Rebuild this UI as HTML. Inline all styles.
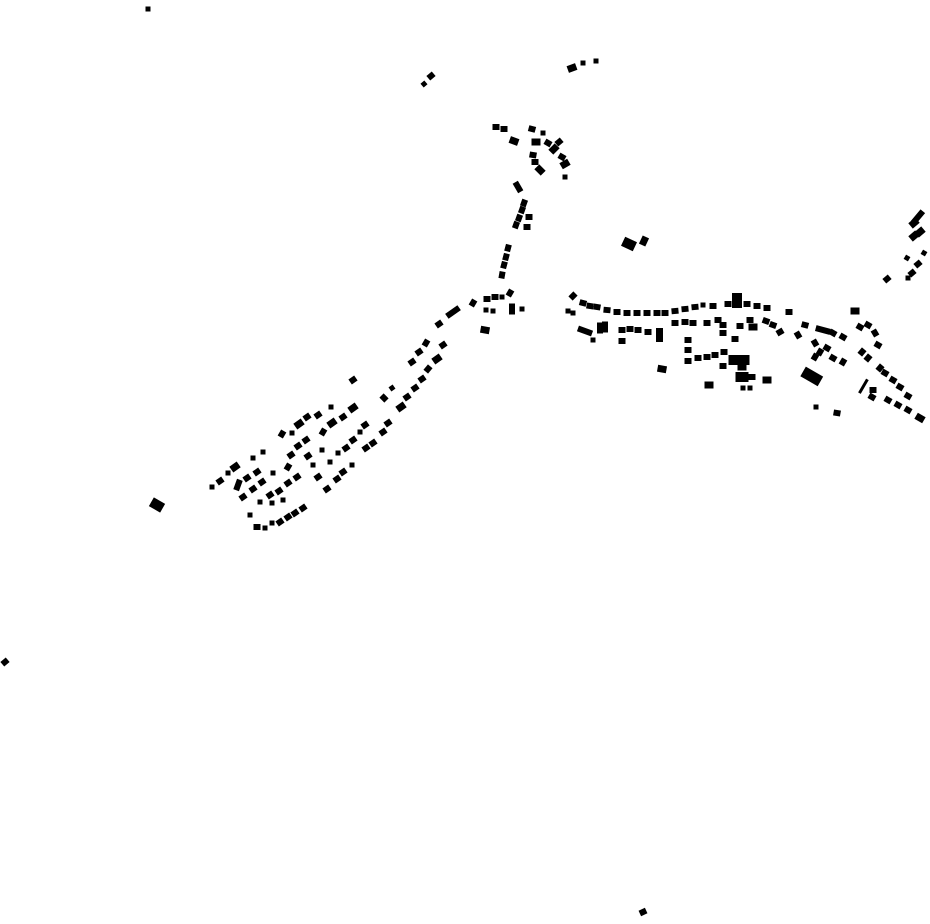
<!DOCTYPE html>
<html><head><meta charset="utf-8"><style>html,body{margin:0;padding:0;background:#fff}svg{display:block}</style></head>
<body>
<svg width="930" height="924" viewBox="0 0 930 924" xmlns="http://www.w3.org/2000/svg">
<defs>
<rect id="s" x="-3.5" y="-3" width="7" height="6" fill="#000"/>
<rect id="t" x="-2.5" y="-2.5" width="5" height="5" fill="#000"/>
<rect id="m" x="-4.5" y="-3.5" width="9" height="7" fill="#000"/>
<rect id="l" x="-6.5" y="-5" width="13" height="10" fill="#000"/>
<rect id="e" x="-7.5" y="-3" width="15" height="6" fill="#000"/>
<rect id="v" x="-3" y="-5.5" width="6" height="11" fill="#000"/>
</defs>
<g fill="#000">
<use href="#t" transform="translate(148 9)"/>
<use href="#s" transform="translate(431 76) rotate(-40)"/>
<use href="#t" transform="translate(424 84) rotate(-40)"/>
<use href="#m" transform="translate(572 68) rotate(-20)"/>
<use href="#t" transform="translate(583 63)"/>
<use href="#t" transform="translate(596 61)"/>
<use href="#l" transform="translate(157 505) rotate(30)"/>
<use href="#s" transform="translate(5 662) rotate(-40)"/>
<use href="#s" transform="translate(643 912) rotate(-25)"/>
<use href="#s" transform="translate(496 127)"/>
<use href="#s" transform="translate(504 129)"/>
<use href="#m" transform="translate(514 141) rotate(20)"/>
<use href="#s" transform="translate(532 129) rotate(15)"/>
<use href="#t" transform="translate(543 133)"/>
<use href="#m" transform="translate(536 142)"/>
<use href="#s" transform="translate(548 143) rotate(30)"/>
<use href="#s" transform="translate(559 142) rotate(-40)"/>
<use href="#m" transform="translate(554 149) rotate(-45)"/>
<use href="#s" transform="translate(533 155) rotate(10)"/>
<use href="#s" transform="translate(535 162)"/>
<use href="#m" transform="translate(540 170) rotate(45)"/>
<use href="#s" transform="translate(562 157) rotate(30)"/>
<use href="#m" transform="translate(565 164) rotate(-30)"/>
<use href="#t" transform="translate(565 177)"/>
<use href="#v" transform="translate(518 187) rotate(-30)"/>
<use href="#s" transform="translate(524 203) rotate(-70)"/>
<use href="#s" transform="translate(522 210) rotate(-70)"/>
<use href="#s" transform="translate(519 218) rotate(-70)"/>
<use href="#s" transform="translate(516 225) rotate(-70)"/>
<use href="#s" transform="translate(529 217)"/>
<use href="#s" transform="translate(527 227)"/>
<use href="#s" transform="translate(508 248) rotate(-75)"/>
<use href="#s" transform="translate(506 257) rotate(-75)"/>
<use href="#s" transform="translate(504 265) rotate(-75)"/>
<use href="#s" transform="translate(502 275) rotate(-80)"/>
<use href="#l" transform="translate(629 244) rotate(25)"/>
<use href="#m" transform="translate(644 241) rotate(-65)"/>
<use href="#e" transform="translate(918 217) rotate(-50)"/>
<use href="#m" transform="translate(914 223) rotate(-40)"/>
<use href="#m" transform="translate(920 232) rotate(-40)"/>
<use href="#m" transform="translate(914 236) rotate(-40)"/>
<use href="#t" transform="translate(907 258) rotate(30)"/>
<use href="#t" transform="translate(924 253) rotate(30)"/>
<use href="#s" transform="translate(918 264) rotate(-40)"/>
<use href="#s" transform="translate(912 273) rotate(-40)"/>
<use href="#t" transform="translate(908 278)"/>
<use href="#s" transform="translate(887 279) rotate(-40)"/>
<use href="#s" transform="translate(473 303) rotate(-60)"/>
<use href="#s" transform="translate(487 299)"/>
<use href="#s" transform="translate(495 297)"/>
<use href="#t" transform="translate(502 297)"/>
<use href="#s" transform="translate(510 293) rotate(-60)"/>
<use href="#t" transform="translate(486 310)"/>
<use href="#t" transform="translate(493 311)"/>
<use href="#v" transform="translate(512 309)"/>
<use href="#t" transform="translate(522 309)"/>
<use href="#m" transform="translate(485 330) rotate(10)"/>
<use href="#e" transform="translate(453 312) rotate(-35)"/>
<use href="#s" transform="translate(439 324) rotate(-35)"/>
<use href="#s" transform="translate(426 343) rotate(-60)"/>
<use href="#s" transform="translate(419 352) rotate(-35)"/>
<use href="#s" transform="translate(412 362) rotate(-35)"/>
<use href="#s" transform="translate(443 345) rotate(-35)"/>
<use href="#m" transform="translate(437 359) rotate(-35)"/>
<use href="#s" transform="translate(428 369) rotate(-50)"/>
<use href="#s" transform="translate(422 379) rotate(-35)"/>
<use href="#s" transform="translate(415 388) rotate(-35)"/>
<use href="#s" transform="translate(407 397) rotate(-35)"/>
<use href="#m" transform="translate(401 407) rotate(-35)"/>
<use href="#t" transform="translate(392 388) rotate(-35)"/>
<use href="#s" transform="translate(384 398) rotate(45)"/>
<use href="#s" transform="translate(353 380) rotate(-35)"/>
<use href="#s" transform="translate(388 423) rotate(-35)"/>
<use href="#s" transform="translate(383 432) rotate(-35)"/>
<use href="#s" transform="translate(373 443) rotate(-35)"/>
<use href="#s" transform="translate(366 448) rotate(-35)"/>
<use href="#s" transform="translate(365 425) rotate(-35)"/>
<use href="#t" transform="translate(360 432)"/>
<use href="#s" transform="translate(353 440) rotate(-35)"/>
<use href="#s" transform="translate(346 448) rotate(-35)"/>
<use href="#t" transform="translate(338 453)"/>
<use href="#t" transform="translate(330 462)"/>
<use href="#t" transform="translate(352 465)"/>
<use href="#s" transform="translate(343 472) rotate(-35)"/>
<use href="#s" transform="translate(337 479) rotate(-35)"/>
<use href="#s" transform="translate(327 489) rotate(-35)"/>
<use href="#m" transform="translate(353 408) rotate(-35)"/>
<use href="#s" transform="translate(343 417) rotate(-35)"/>
<use href="#m" transform="translate(332 423) rotate(-35)"/>
<use href="#s" transform="translate(323 432) rotate(-60)"/>
<use href="#t" transform="translate(331 407)"/>
<use href="#s" transform="translate(318 415) rotate(-35)"/>
<use href="#s" transform="translate(307 417) rotate(-35)"/>
<use href="#m" transform="translate(299 424) rotate(-35)"/>
<use href="#t" transform="translate(292 433)"/>
<use href="#s" transform="translate(282 434) rotate(-60)"/>
<use href="#s" transform="translate(306 440) rotate(-35)"/>
<use href="#s" transform="translate(298 446) rotate(-35)"/>
<use href="#s" transform="translate(291 455) rotate(-35)"/>
<use href="#t" transform="translate(322 450)"/>
<use href="#s" transform="translate(308 456) rotate(-35)"/>
<use href="#t" transform="translate(313 465)"/>
<use href="#s" transform="translate(318 477) rotate(-35)"/>
<use href="#s" transform="translate(288 467) rotate(-60)"/>
<use href="#s" transform="translate(297 477) rotate(-35)"/>
<use href="#s" transform="translate(288 483) rotate(-35)"/>
<use href="#s" transform="translate(279 491) rotate(-35)"/>
<use href="#s" transform="translate(270 495) rotate(-35)"/>
<use href="#t" transform="translate(273 473)"/>
<use href="#s" transform="translate(262 482) rotate(-35)"/>
<use href="#s" transform="translate(253 489) rotate(-35)"/>
<use href="#s" transform="translate(243 497) rotate(-35)"/>
<use href="#t" transform="translate(260 502)"/>
<use href="#t" transform="translate(272 503)"/>
<use href="#t" transform="translate(283 500)"/>
<use href="#s" transform="translate(257 472) rotate(-35)"/>
<use href="#s" transform="translate(247 478) rotate(-35)"/>
<use href="#v" transform="translate(238 485) rotate(20)"/>
<use href="#m" transform="translate(235 467) rotate(-35)"/>
<use href="#t" transform="translate(228 473)"/>
<use href="#s" transform="translate(220 481) rotate(-35)"/>
<use href="#t" transform="translate(212 487)"/>
<use href="#t" transform="translate(253 458)"/>
<use href="#t" transform="translate(263 452)"/>
<use href="#s" transform="translate(303 508) rotate(-35)"/>
<use href="#s" transform="translate(295 513) rotate(-35)"/>
<use href="#s" transform="translate(288 517) rotate(-35)"/>
<use href="#s" transform="translate(280 522) rotate(-35)"/>
<use href="#t" transform="translate(272 523)"/>
<use href="#t" transform="translate(265 528)"/>
<use href="#s" transform="translate(257 527)"/>
<use href="#t" transform="translate(250 515)"/>
<use href="#s" transform="translate(573 296) rotate(-45)"/>
<use href="#s" transform="translate(583 303) rotate(15)"/>
<use href="#s" transform="translate(590 306) rotate(10)"/>
<use href="#s" transform="translate(597 307) rotate(10)"/>
<use href="#s" transform="translate(607 310) rotate(5)"/>
<use href="#s" transform="translate(617 312)"/>
<use href="#s" transform="translate(627 313)"/>
<use href="#s" transform="translate(637 313)"/>
<use href="#s" transform="translate(647 313)"/>
<use href="#s" transform="translate(657 313)"/>
<use href="#s" transform="translate(665 313)"/>
<use href="#s" transform="translate(675 311) rotate(-5)"/>
<use href="#s" transform="translate(685 309) rotate(-5)"/>
<use href="#s" transform="translate(695 307) rotate(-5)"/>
<use href="#t" transform="translate(703 305)"/>
<use href="#s" transform="translate(713 306)"/>
<use href="#s" transform="translate(728 304)"/>
<rect x="732" y="293" width="10" height="15"/>
<use href="#s" transform="translate(747 304)"/>
<use href="#s" transform="translate(757 306)"/>
<use href="#s" transform="translate(767 308)"/>
<use href="#s" transform="translate(789 312)"/>
<use href="#t" transform="translate(568 311)"/>
<use href="#t" transform="translate(573 313)"/>
<use href="#e" transform="translate(585 331) rotate(20)"/>
<use href="#t" transform="translate(593 340)"/>
<use href="#v" transform="translate(600 328)"/>
<use href="#v" transform="translate(605 327)"/>
<use href="#s" transform="translate(622 330)"/>
<use href="#s" transform="translate(630 329)"/>
<use href="#s" transform="translate(638 330)"/>
<use href="#s" transform="translate(648 332)"/>
<rect x="656" y="328" width="7" height="14"/>
<use href="#s" transform="translate(622 341)"/>
<use href="#s" transform="translate(675 323)"/>
<use href="#s" transform="translate(685 322)"/>
<use href="#s" transform="translate(693 323)"/>
<use href="#s" transform="translate(707 323)"/>
<use href="#s" transform="translate(718 320)"/>
<use href="#s" transform="translate(723 325)"/>
<use href="#s" transform="translate(723 333)"/>
<use href="#s" transform="translate(740 326)"/>
<use href="#s" transform="translate(750 320)"/>
<use href="#m" transform="translate(753 327)"/>
<use href="#s" transform="translate(766 321) rotate(20)"/>
<use href="#s" transform="translate(773 325) rotate(20)"/>
<use href="#s" transform="translate(780 332) rotate(-30)"/>
<use href="#s" transform="translate(798 335) rotate(60)"/>
<use href="#s" transform="translate(805 325) rotate(15)"/>
<use href="#e" transform="translate(823 330) rotate(15)"/>
<use href="#s" transform="translate(833 333) rotate(30)"/>
<use href="#s" transform="translate(843 337) rotate(30)"/>
<use href="#m" transform="translate(855 311)"/>
<use href="#s" transform="translate(860 327) rotate(30)"/>
<use href="#s" transform="translate(868 325) rotate(30)"/>
<use href="#s" transform="translate(875 333) rotate(60)"/>
<use href="#s" transform="translate(688 340)"/>
<use href="#s" transform="translate(688 350)"/>
<use href="#s" transform="translate(688 361)"/>
<use href="#s" transform="translate(698 358)"/>
<use href="#s" transform="translate(707 357)"/>
<use href="#s" transform="translate(715 355)"/>
<use href="#s" transform="translate(724 352)"/>
<use href="#l" transform="translate(735 360)"/>
<use href="#l" transform="translate(743 360)"/>
<use href="#s" transform="translate(723 366)"/>
<use href="#m" transform="translate(742 367)"/>
<use href="#l" transform="translate(742 377)"/>
<use href="#s" transform="translate(752 377)"/>
<use href="#m" transform="translate(767 380)"/>
<use href="#m" transform="translate(709 385)"/>
<use href="#t" transform="translate(743 388)"/>
<use href="#t" transform="translate(750 388)"/>
<use href="#m" transform="translate(662 369) rotate(10)"/>
<use href="#s" transform="translate(735 339)"/>
<rect x="802" y="371" width="20" height="11" transform="rotate(30 812 376)"/>
<use href="#s" transform="translate(815 343) rotate(60)"/>
<use href="#s" transform="translate(820 352) rotate(-60)"/>
<use href="#s" transform="translate(815 357) rotate(-60)"/>
<use href="#s" transform="translate(827 348) rotate(30)"/>
<use href="#s" transform="translate(833 358) rotate(30)"/>
<use href="#s" transform="translate(843 362) rotate(-60)"/>
<use href="#s" transform="translate(862 352) rotate(-50)"/>
<use href="#s" transform="translate(868 358) rotate(-50)"/>
<use href="#s" transform="translate(878 345) rotate(30)"/>
<use href="#s" transform="translate(880 368) rotate(-50)"/>
<use href="#s" transform="translate(885 373) rotate(30)"/>
<use href="#s" transform="translate(893 380) rotate(30)"/>
<use href="#s" transform="translate(900 387) rotate(30)"/>
<use href="#s" transform="translate(908 396) rotate(30)"/>
<rect x="855" y="385" width="16" height="3" transform="rotate(-60 863 386)"/>
<use href="#s" transform="translate(873 390)"/>
<use href="#s" transform="translate(872 397) rotate(30)"/>
<use href="#s" transform="translate(888 400) rotate(30)"/>
<use href="#s" transform="translate(898 405) rotate(30)"/>
<use href="#s" transform="translate(908 410) rotate(30)"/>
<use href="#m" transform="translate(920 418) rotate(30)"/>
<use href="#t" transform="translate(816 407)"/>
<use href="#s" transform="translate(837 413) rotate(10)"/>
</g>
</svg>
</body></html>
